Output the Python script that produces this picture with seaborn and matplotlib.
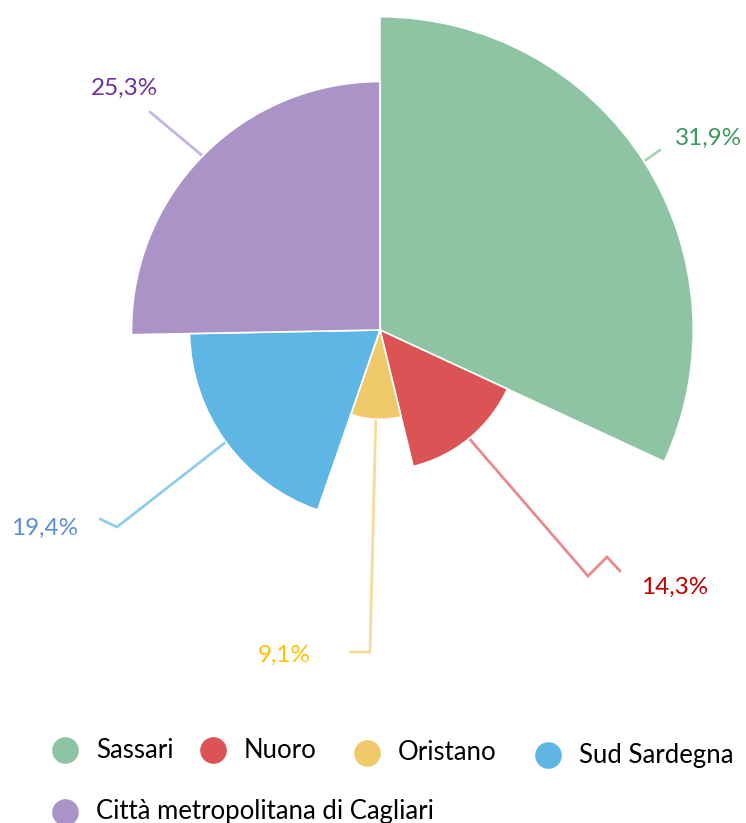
import numpy as np
import matplotlib.pyplot as plt
from matplotlib.patches import Wedge
import seaborn as sns

# Data
provinces = ["Sassari", "Nuoro", "Oristano", "Sud Sardegna", "Città metropolitana di Cagliari"]
shares = [31.9, 14.3, 9.1, 19.4, 25.3]
labels = ["31,9%", "14,3%", "9,1%", "19,4%", "25,3%"]
slice_colors = ["#8ec4a4", "#dc5356", "#f0ca6a", "#5db6e3", "#ab93c8"]
label_colors = ["#3a9a5c", "#c00000", "#ffc000", "#5b8fd6", "#7030a0"]
line_colors = ["#a9d4ba", "#e88a8c", "#f5dc9a", "#8fcdec", "#c7b6dc"]

sns.set_theme(style="white")
plt.rcParams['font.family'] = ['Lato', 'DejaVu Sans']

W, H = 746, 823
fig = plt.figure(figsize=(W / 100, H / 100), dpi=100)
ax = fig.add_axes([0, 0, 1, 1])
ax.set_xlim(0, W)
ax.set_ylim(0, H)
ax.axis("off")

cx, cy = 380, H - 330
scale = 9.82  # radius per percent point

# label layout: elbow points and label centers (pixel coords, y from top)
elbows = [
    [(660, 150)],
    [(588, 576), (607, 557), (620, 571)],
    [(370, 652), (350, 652)],
    [(117, 527), (100, 519)],
    [(150, 112)],
]
label_pos = [(709, 138), (675, 587), (284, 655), (45, 528), (125, 88)]

cum = 0
for i, v in enumerate(shares):
    t2 = 90 - cum * 3.6
    t1 = 90 - (cum + v) * 3.6
    r = v * scale
    ax.add_patch(Wedge((cx, cy), r, t1, t2, facecolor=slice_colors[i],
                       edgecolor="white", linewidth=1.2, zorder=2))
    mid = np.deg2rad((t1 + t2) / 2)
    x0, y0 = cx + r * np.cos(mid), cy + r * np.sin(mid)
    xs = [x0] + [p[0] for p in elbows[i]]
    ys = [y0] + [H - p[1] for p in elbows[i]]
    ax.plot(xs, ys, color=line_colors[i], lw=2, zorder=1, solid_joinstyle="miter")
    lx, ly = label_pos[i]
    ax.text(lx, H - ly, labels[i], color=label_colors[i], fontsize=17.5,
            ha="center", va="center")
    cum += v

# Legend
legend_pos = [(65, 750), (213, 750), (367, 753), (548, 755), (65, 812)]
for i, name in enumerate(provinces):
    mx, my = legend_pos[i]
    ax.scatter([mx], [H - my], s=330, color=slice_colors[i], zorder=3)
    ax.text(mx + 31, H - my, name, fontsize=18.5, color="black",
            ha="left", va="center")

plt.savefig("out.png", dpi=100)
